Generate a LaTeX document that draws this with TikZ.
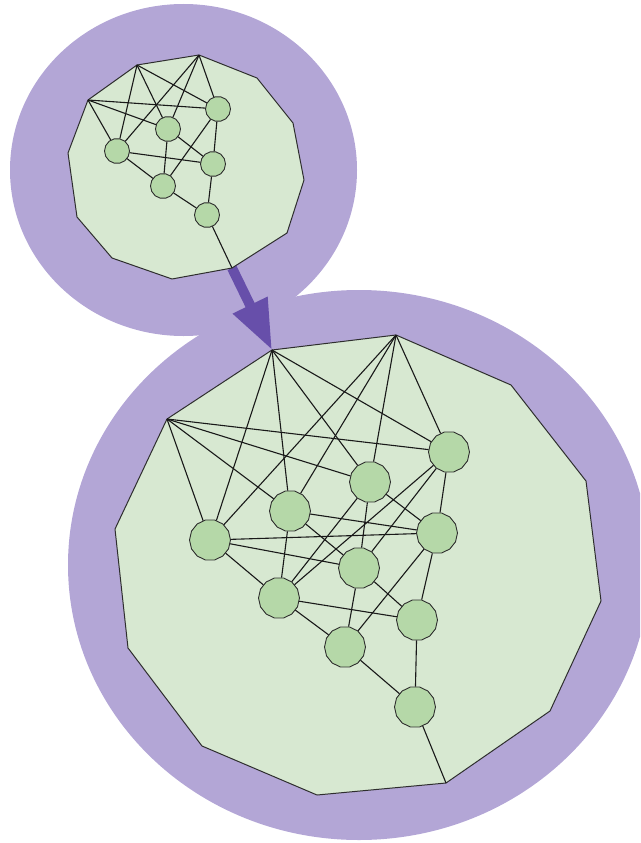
\documentclass[tikz,border=0pt]{standalone}
\usetikzlibrary{arrows.meta, shapes.geometric}
\definecolor{cblob}{HTML}{B3A6D6}
\definecolor{cplane}{HTML}{D7E8D1}
\definecolor{cunit}{HTML}{B5D8A8}
\definecolor{carrow}{HTML}{674FAA}
\definecolor{cline}{HTML}{2E2E2E}
\tikzset{
  every picture/.style={x=1pt, y=-1pt, line join=round},
  blob/.style={fill=cblob},
  plane/.style={draw=cline, fill=cplane, line width=1pt},
  unit/.style={regular polygon, regular polygon sides=14, draw=cline, fill=cunit, line width=0.9pt, inner sep=0pt, minimum size=#1},
  unit/.default=41pt,
  link/.style={draw=black!90, line width=1.1pt},
  flow/.style={-{Triangle[length=50pt, width=36pt]}, draw=carrow, line width=10pt},
}

\begin{document}
\begin{tikzpicture}
  \useasboundingbox (0,0) rectangle (640,843);
  \clip (0,0) rectangle (640,843);
  % outline points of the two planes
  \foreach \p [count=\i] in {{88,100},{137,65},{199,55},{257,78},{293,123},{304,180},{287,233},{232,268},{172,279},{112,258},{77,217},{68,153}}
    \coordinate (a\i) at (\p);
  \foreach \p [count=\i] in {{167,419},{272,350},{396,335},{511,385},{586,481},{601,601},{550,711},{446,783},{317,795},{202,746},{128,648},{115,529}}
    \coordinate (b\i) at (\p);
  % halos
  \path[blob] (183.5,170) ellipse [x radius=173.5, y radius=166];
  \path[blob] (359,565) ellipse [x radius=291, y radius=275];
  \draw[flow] (a8) -- (b2);
  \draw[plane] (a1) \foreach \i in {2,...,12}{ -- (a\i)} -- cycle;
  \draw[plane] (b1) \foreach \i in {2,...,12}{ -- (b\i)} -- cycle;

  % small network
  \node[unit=25pt] (s11) at (117,151) {};
  \node[unit=25pt] (s12) at (168,129) {};
  \node[unit=25pt] (s13) at (218,109) {};
  \node[unit=25pt] (s21) at (163,186) {};
  \node[unit=25pt] (s22) at (213,164) {};
  \node[unit=25pt] (s31) at (207,215) {};
  \foreach \i in {1,2,3} \foreach \j in {1,2,3} \draw[link] (a\i) -- (s1\j);
  \foreach \i in {1,2,3} \foreach \j in {1,2} \draw[link] (s1\i) -- (s2\j);
  \foreach \i in {1,2} \draw[link] (s2\i) -- (s31);
  \draw[link] (s31) -- (a8);

  % large network
  \node[unit] (u11) at (210,540) {};
  \node[unit] (u12) at (290,511) {};
  \node[unit] (u13) at (370,482) {};
  \node[unit] (u14) at (449,452) {};
  \node[unit] (u21) at (279,598) {};
  \node[unit] (u22) at (359,568) {};
  \node[unit] (u23) at (437,533) {};
  \node[unit] (u31) at (345,647) {};
  \node[unit] (u32) at (417,620) {};
  \node[unit] (u41) at (415,707) {};
  \foreach \i in {1,2,3} \foreach \j in {1,...,4} \draw[link] (b\i) -- (u1\j);
  \foreach \i in {1,...,4} \foreach \j in {1,2,3} \draw[link] (u1\i) -- (u2\j);
  \foreach \i in {1,2,3} \foreach \j in {1,2} \draw[link] (u2\i) -- (u3\j);
  \foreach \i in {1,2} \draw[link] (u3\i) -- (u41);
  \draw[link] (u41) -- (b8);
\end{tikzpicture}
\end{document}
